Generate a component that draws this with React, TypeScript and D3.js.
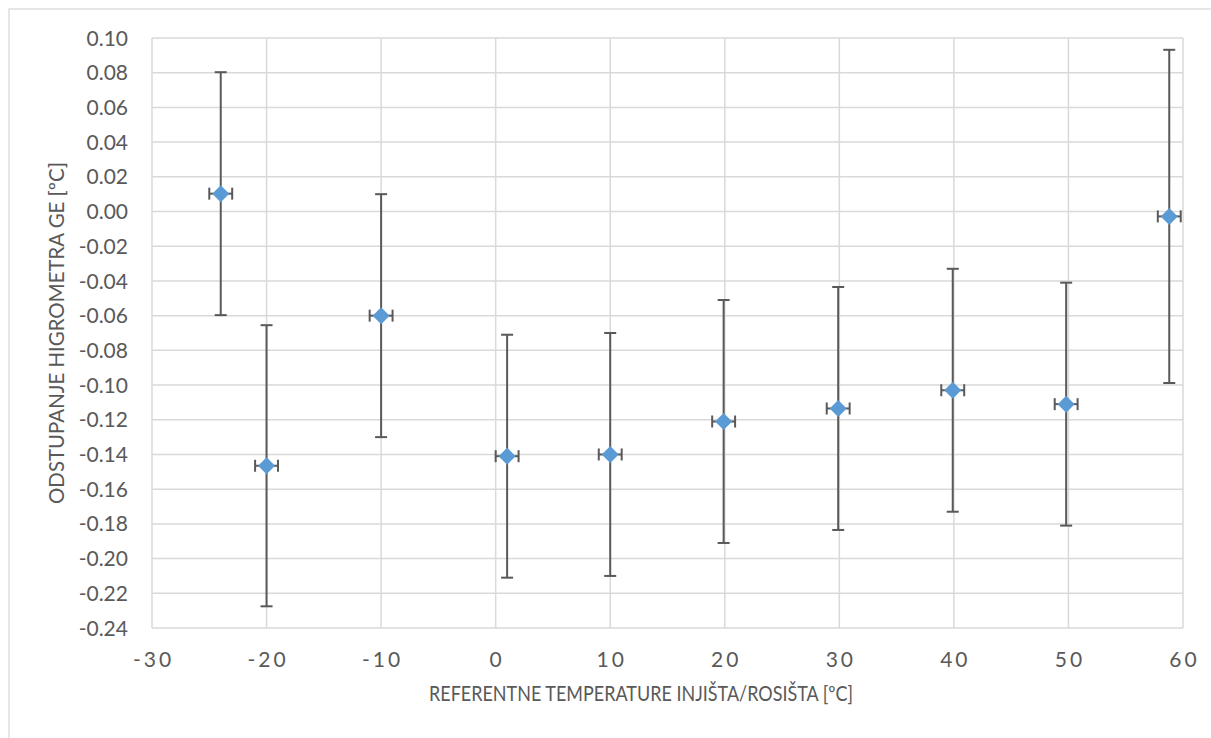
import React from "react";
import * as d3 from "d3";

const xValues = [-24, -20, -10, 1, 10, 19.9, 29.9, 39.9, 49.8, 58.8];
const yValues = [0.0103, -0.1465, -0.060, -0.141, -0.140, -0.121, -0.1135, -0.103, -0.111, -0.0028];
const yErrors = [0.07, 0.081, 0.07, 0.07, 0.07, 0.07, 0.07, 0.07, 0.07, 0.096];
const xErrors = [1, 1, 1, 1, 1, 1, 1, 1, 1, 1];
const xTicks = [-30, -20, -10, 0, 10, 20, 30, 40, 50, 60];
const yTicks = d3.range(17, -1, -1).map((i) => -0.24 + i * 0.02);
const xTitle = "REFERENTNE TEMPERATURE INJIŠTA/ROSIŠTA [ºC]";
const yTitle = "ODSTUPANJE HIGROMETRA GE [ºC]";

const W = 1211;
const H = 738;
const plot = { left: 152, right: 1183, top: 38, bottom: 628 };

export default function App() {
  const x = d3.scaleLinear().domain([-30, 60]).range([plot.left, plot.right]);
  const y = d3.scaleLinear().domain([-0.24, 0.1]).range([plot.bottom, plot.top]);
  const font = "Lato, 'Open Sans', sans-serif";
  const grid = "#d9d9d9";
  const text = "#595959";
  const bar = "#595959";
  const mk = 8.5;
  const cap = 6;

  return (
    <svg
      width={W}
      height={H}
      style={{ position: "absolute", left: 0, top: 0, background: "#fff" }}
      fontFamily={font}
    >
      <rect x={9} y={9} width={W + 10} height={H + 10} fill="#fff" stroke={grid} strokeWidth={1.3} />
      {yTicks.map((t, i) => (
        <line key={"gy" + i} x1={plot.left} x2={plot.right} y1={y(t)} y2={y(t)} stroke={grid} strokeWidth={1.5} />
      ))}
      {xTicks.map((t, i) => (
        <line key={"gx" + i} x1={x(t)} x2={x(t)} y1={plot.top} y2={plot.bottom} stroke={grid} strokeWidth={1.5} />
      ))}
      {yTicks.map((t, i) => (
        <text key={"ty" + i} x={128} y={y(t)} dy="0.36em" textAnchor="end" fontSize={21} fill={text}>
          {d3.format(".2f")(t).replace("−", "-")}
        </text>
      ))}
      {xTicks.map((t, i) => (
        <text key={"tx" + i} x={x(t) + 1.5} y={667} textAnchor="middle" fontSize={21} fill={text} letterSpacing={3}>
          {String(t)}
        </text>
      ))}
      <text
        x={641}
        y={700.5}
        textAnchor="middle"
        fontSize={21}
        fill={text}
        textLength={424}
        lengthAdjust="spacingAndGlyphs"
      >
        {xTitle}
      </text>
      <text
        transform={`translate(64, ${(plot.top + plot.bottom) / 2}) rotate(-90)`}
        textAnchor="middle"
        fontSize={21}
        fill={text}
        textLength={342}
        lengthAdjust="spacingAndGlyphs"
      >
        {yTitle}
      </text>
      {xValues.map((xv, i) => {
        const cx = x(xv);
        const cy = y(yValues[i]);
        const yt = y(yValues[i] + yErrors[i]);
        const yb = y(yValues[i] - yErrors[i]);
        const xl = x(xv - xErrors[i]);
        const xr = x(xv + xErrors[i]);
        return (
          <g key={"p" + i} stroke={bar} strokeWidth={2}>
            <line x1={cx} x2={cx} y1={yt} y2={yb} />
            <line x1={cx - cap} x2={cx + cap} y1={yt} y2={yt} />
            <line x1={cx - cap} x2={cx + cap} y1={yb} y2={yb} />
            <line x1={xl} x2={xr} y1={cy} y2={cy} />
            <line x1={xl} x2={xl} y1={cy - cap} y2={cy + cap} />
            <line x1={xr} x2={xr} y1={cy - cap} y2={cy + cap} />
            <path
              d={`M${cx},${cy - mk}L${cx + mk},${cy}L${cx},${cy + mk}L${cx - mk},${cy}Z`}
              fill="#5b9bd5"
              stroke="none"
            />
          </g>
        );
      })}
    </svg>
  );
}
